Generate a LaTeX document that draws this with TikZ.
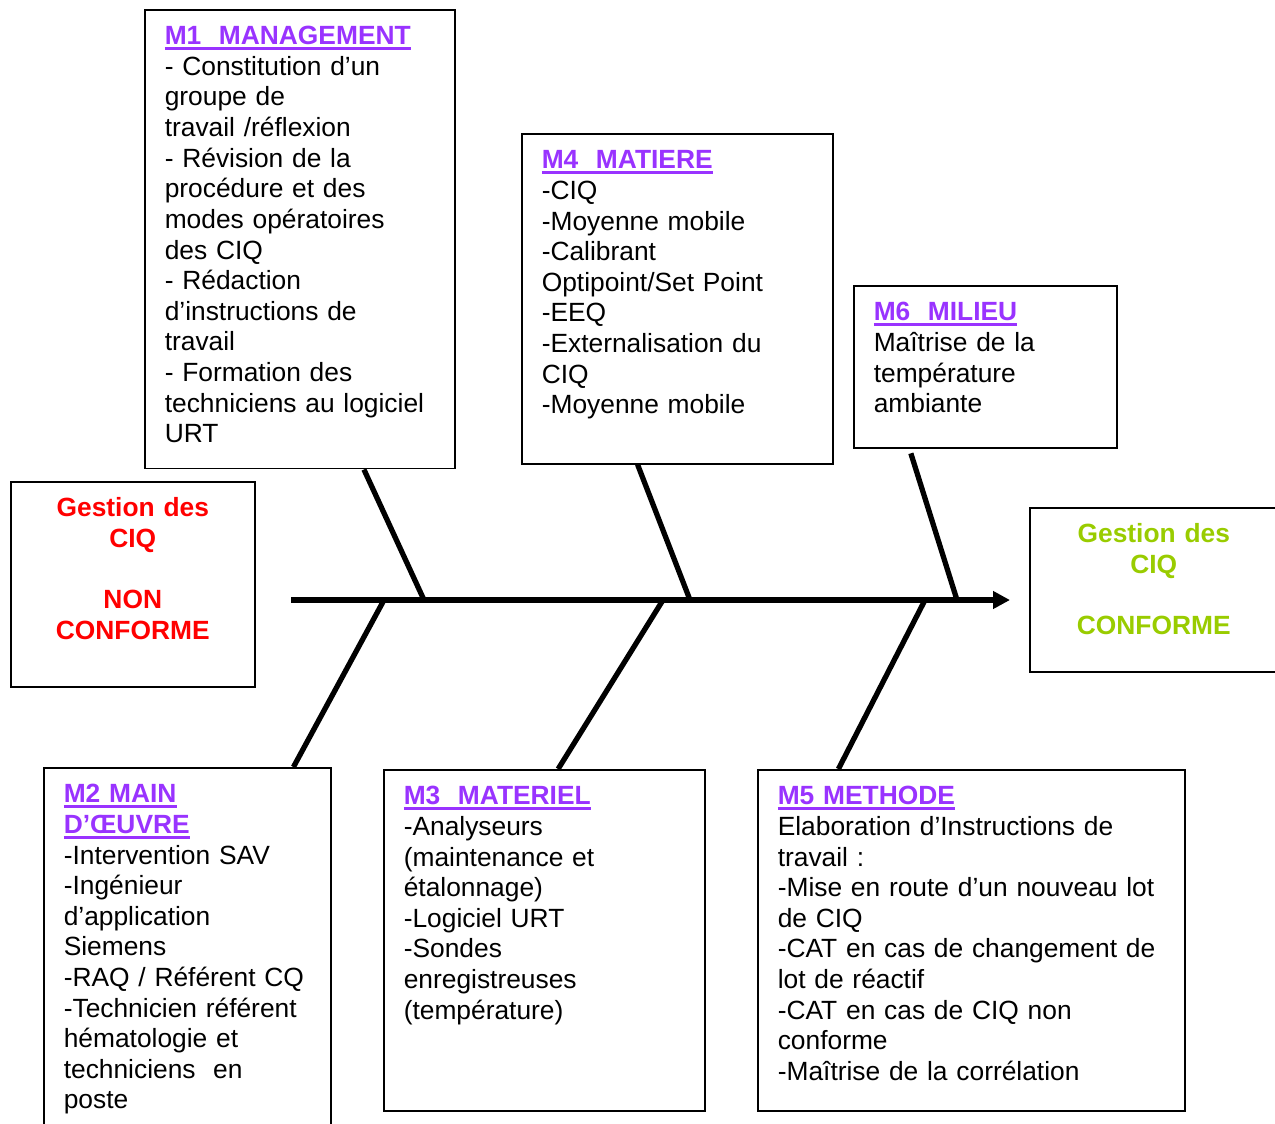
\documentclass[tikz,border=0pt]{standalone}
\usepackage{fontspec}
\setmainfont{Liberation Sans}
\usetikzlibrary{arrows.meta,calc}

\definecolor{titlepurple}{HTML}{9933FF}
\definecolor{nonconfred}{HTML}{FF0000}
\definecolor{confgreen}{HTML}{99CC00}

\newcommand{\bodysize}{\fontsize{15}{17.42}\selectfont}
% underlined purple heading of a cause box
\newcommand{\causetitle}[1]{\textcolor{titlepurple}{\bfseries\setbox0\hbox{#1}\rlap{\rule[-3pt]{\wd0}{1.6pt}}\box0}}

\begin{document}
\begin{tikzpicture}[x=0.02cm, y=-0.02cm, font=\bodysize,
	cause/.style={draw, line width=0.9pt, anchor=north west, align=left,
		inner xsep=0.4cm, inner ysep=0pt, text height=0.7cm},
	effect/.style={cause, align=center, font=\bodysize\bfseries},
	bone/.style={line width=3pt},
	spine/.style={line width=3.8pt, -{Triangle[length=0.34cm,width=0.34cm]}}]

	\useasboundingbox (0,0) rectangle (1275,1123);

	% Draw the effect boxes
	\node[effect, text=nonconfred, text width=4.08cm, text depth=3.4cm] (nc) at (10,481)
		{Gestion des\\CIQ\\[17.42pt]NON\\CONFORME};
	\node[effect, text=confgreen, text width=4.16cm, text depth=2.58cm] (conf) at (1029,507)
		{Gestion des\\CIQ\\[17.42pt]CONFORME};

	% Draw the cause boxes
	\node[cause, text width=5.4cm, text depth=8.48cm] (m1) at (144,9)
		{\causetitle{M1~~MANAGEMENT}\\- Constitution d’un\\groupe de\\travail /réflexion\\- Révision de la\\procédure et des\\modes opératoires\\des CIQ\\- Rédaction\\d’instructions de\\travail\\- Formation des\\techniciens au logiciel\\URT};
	\node[cause, text width=5.42cm, text depth=5.9cm] (m4) at (521,133)
		{\causetitle{M4~~MATIERE}\\-CIQ\\-Moyenne mobile\\-Calibrant\\Optipoint/Set Point\\-EEQ\\-Externalisation du\\CIQ\\-Moyenne mobile};
	\node[cause, text width=4.46cm, text depth=2.54cm] (m6) at (853,285)
		{\causetitle{M6~~MILIEU}\\Maîtrise de la\\température\\ambiante};
	\node[cause, text width=4.94cm, text depth=6.9cm] (m2) at (43,767)
		{\causetitle{M2 MAIN}\\\causetitle{D’ŒUVRE}\\-Intervention SAV\\-Ingénieur\\d’application\\Siemens\\-RAQ / Référent CQ\\-Technicien référent\\hématologie et\\techniciens~~en\\poste};
	\node[cause, text width=5.62cm, text depth=6.12cm] (m3) at (383,769)
		{\causetitle{M3~~MATERIEL}\\-Analyseurs\\(maintenance et\\étalonnage)\\-Logiciel URT\\-Sondes\\enregistreuses\\(température)};
	\node[cause, text width=7.74cm, text depth=6.12cm] (m5) at (757,769)
		{\causetitle{M5 METHODE}\\Elaboration d’Instructions de\\travail :\\-Mise en route d’un nouveau lot\\de CIQ\\-CAT en cas de changement de\\lot de réactif\\-CAT en cas de CIQ non\\conforme\\-Maîtrise de la corrélation};

	% Spine and joints
	\coordinate (tail) at (291,600);
	\coordinate (head) at (1010,600);
	\coordinate (j1) at (424,600);
	\coordinate (j4) at (690,600);
	\coordinate (j6) at (957,600);
	\coordinate (j2) at (384,600);
	\coordinate (j3) at (663,600);
	\coordinate (j5) at (925,600);
	\draw[spine] (tail) -- (head);

	% Draw the bones
	\draw[bone] ($(m1.south west)!0.706!(m1.south east)$) -- (j1);
	\draw[bone] ($(m4.south west)!0.373!(m4.south east)$) -- (j4);
	\draw[bone, shorten <=0.1cm] ($(m6.south west)!0.213!(m6.south east)$) -- (j6);
	\draw[bone] ($(m2.north west)!0.868!(m2.north east)$) -- (j2);
	\draw[bone] ($(m3.north west)!0.543!(m3.north east)$) -- (j3);
	\draw[bone] ($(m5.north west)!0.190!(m5.north east)$) -- (j5);
\end{tikzpicture}
\end{document}
